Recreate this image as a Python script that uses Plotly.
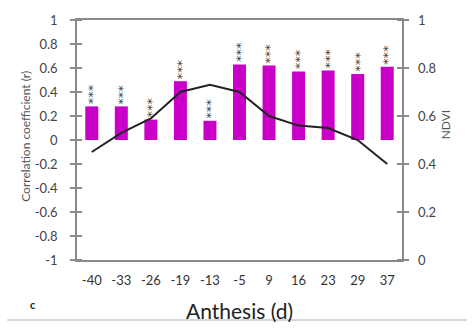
import plotly.graph_objects as go

categories = ["-40", "-33", "-26", "-19", "-13", "-5", "9", "16", "23", "29", "37"]
corr_r = [0.28, 0.28, 0.17, 0.49, 0.16, 0.63, 0.62, 0.57, 0.58, 0.55, 0.61]
ndvi = [0.45, 0.53, 0.59, 0.70, 0.73, 0.70, 0.60, 0.56, 0.55, 0.50, 0.40]
sig = ["***"] * len(categories)
left_ticks = [1, 0.8, 0.6, 0.4, 0.2, 0, -0.2, -0.4, -0.6, -0.8, -1]
right_ticks = [0, 0.2, 0.4, 0.6, 0.8, 1]

idx = list(range(len(categories)))
half_steps = [i / 2 - 0.5 for i in range(2 * len(categories) + 1)]

FONT = "Lato, 'Open Sans', sans-serif"
AXC = "#8a8a8a"

fig = go.Figure()
fig.add_trace(go.Bar(x=idx, y=corr_r, width=0.44, marker=dict(color="#c800c8", line=dict(width=0)),
                     xaxis="x", yaxis="y", showlegend=False))
fig.add_trace(go.Scatter(x=idx, y=ndvi, mode="lines", line=dict(color="#222222", width=2),
                         xaxis="x", yaxis="y2", showlegend=False))

# significance stars stacked vertically above each bar
for i, (v, s) in enumerate(zip(corr_r, sig)):
    fig.add_annotation(x=i, y=v, xref="x", yref="y", text=s, showarrow=False,
                       textangle=-90, yanchor="bottom", xanchor="center", yshift=0, xshift=1,
                       font=dict(family="DejaVu Sans", size=13, color="#333333"))

fig.update_layout(
    width=472, height=332,
    margin=dict(l=77, r=70, t=14, b=72),
    paper_bgcolor="white", plot_bgcolor="white",
    font=dict(family=FONT, color="#444444"),
    bargap=0.5,
    xaxis=dict(range=[-0.5, len(categories) - 0.5], tickvals=idx, ticktext=categories,
               showline=True, linecolor=AXC, linewidth=1.5, mirror=True, ticks="",
               ticklabelstandoff=8,
               showgrid=False, zeroline=False, tickfont=dict(size=13, color="#333333")),
    xaxis2=dict(range=[-0.5, len(categories) - 0.5], overlaying="x", anchor="free", position=0.5,
                side="bottom", tickvals=half_steps, showticklabels=False, ticks="outside",
                ticklen=4, tickcolor=AXC, showline=True, linecolor=AXC, linewidth=1.5,
                showgrid=False, zeroline=False),
    yaxis=dict(range=[-1, 1], tickvals=left_ticks, ticktext=[str(t) + "   " for t in left_ticks],
               showline=True, linecolor=AXC, linewidth=1.5, ticks="outside", ticklen=5,
               tickcolor=AXC, tickwidth=1.5, showgrid=False, zeroline=False,
               minor=dict(ticks="inside", ticklen=5, tickcolor=AXC, tickwidth=1.5,
                          tickvals=[t + 1e-6 for t in left_ticks]),
               tickfont=dict(size=13, color="#444444")),
    yaxis2=dict(range=[0, 1], tickvals=right_ticks, ticktext=["  " + str(t) for t in right_ticks],
                overlaying="y", side="right", anchor="x", showline=True, linecolor=AXC, linewidth=1.5,
                ticks="outside", ticklen=5, tickcolor=AXC, tickwidth=1.5, showgrid=False, zeroline=False,
                minor=dict(ticks="inside", ticklen=5, tickcolor=AXC, tickwidth=1.5,
                           tickvals=[t + 1e-6 for t in right_ticks]),
                tickfont=dict(size=13, color="#444444")),
)

fig.add_annotation(text="Correlation coefficient (r)", xref="paper", yref="paper", x=-0.158, y=0.516,
                   textangle=-90, showarrow=False, xanchor="center", yanchor="middle",
                   font=dict(family=FONT, size=12, color="#555555"))
fig.add_annotation(text="NDVI", xref="paper", yref="paper", x=1.132, y=0.565,
                   textangle=-90, showarrow=False, xanchor="center", yanchor="middle",
                   font=dict(family=FONT, size=12, color="#555555"))
fig.add_annotation(text="Anthesis (d)", xref="paper", yref="paper", x=0.5, y=-0.21,
                   showarrow=False, xanchor="center", yanchor="middle",
                   font=dict(family=FONT, size=21, color="#222222"))
fig.add_annotation(text="<b>c</b>", xref="paper", yref="paper", x=-0.135, y=-0.187, showarrow=False,
                   xanchor="center", yanchor="middle", font=dict(family=FONT, size=11, color="#222222"))
fig.add_shape(type="line", xref="paper", yref="paper", x0=-0.215, x1=1.2, y0=-0.25, y1=-0.25,
              line=dict(color="#b0b0b0", width=1))

fig.write_html("out.html")
